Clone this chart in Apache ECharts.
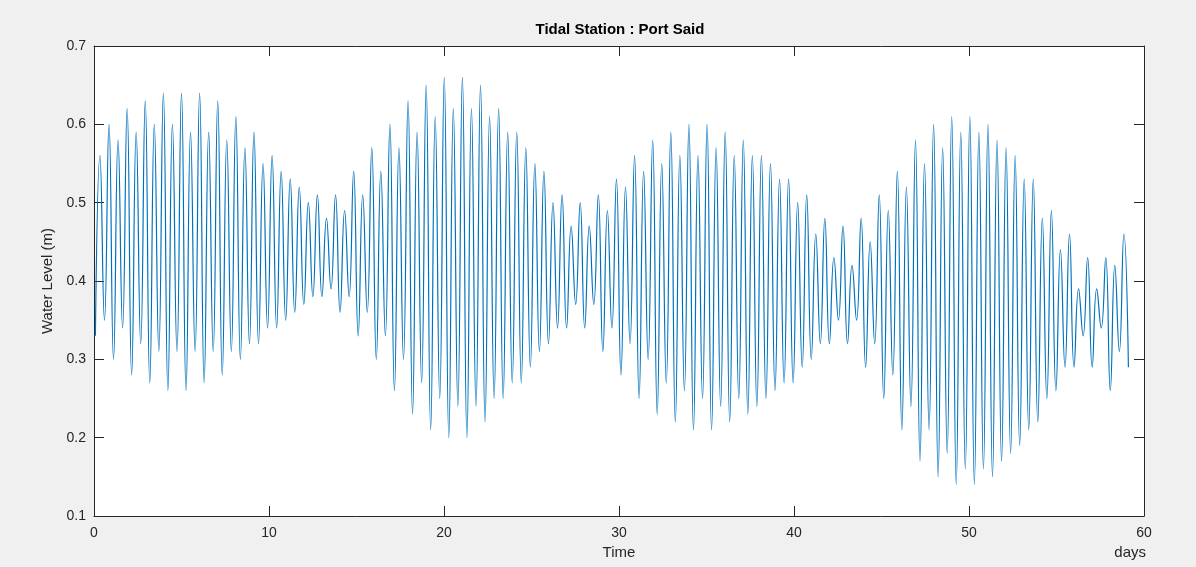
<!DOCTYPE html>
<html>
<head>
<meta charset="utf-8">
<title>Tidal Station : Port Said</title>
<script src="https://cdn.jsdelivr.net/npm/echarts@6/dist/echarts.min.js"></script>
<style>
  html, body { margin: 0; padding: 0; background: #F0F0F0; }
  #chart { width: 1196px; height: 567px; }
</style>
</head>
<body>
<div id="chart"></div>
<script>
// Successive high / low water levels (m), one value per tidal half-cycle,
// starting with the low water at the beginning of the record.
const levelsDays0to10 = [
  0.33,
  0.56, 0.35, 0.60, 0.30, 0.58, 0.34, 0.62, 0.28, 0.59, 0.32,
  0.63, 0.27, 0.60, 0.31, 0.64, 0.26, 0.60, 0.31, 0.64, 0.26,
  0.59, 0.31, 0.64, 0.27, 0.59, 0.31, 0.63, 0.28, 0.58, 0.31,
  0.61, 0.30, 0.57, 0.32, 0.59, 0.32, 0.55, 0.34, 0.56
];
const levelsDays10to20 = [
  0.34, 0.54, 0.35, 0.53, 0.36, 0.52, 0.37, 0.50, 0.38, 0.51,
  0.38, 0.48, 0.39, 0.51, 0.36, 0.49, 0.38, 0.54, 0.33, 0.51,
  0.36, 0.57, 0.30, 0.54, 0.33, 0.60, 0.26, 0.57, 0.30, 0.63,
  0.23, 0.59, 0.27, 0.65, 0.21, 0.61
];
const levelsDays20to30 = [
  0.25, 0.66, 0.20, 0.62, 0.24, 0.66, 0.20, 0.62, 0.24, 0.65,
  0.22, 0.61, 0.25, 0.62, 0.25, 0.59, 0.27, 0.59, 0.27, 0.57,
  0.29, 0.55, 0.31, 0.54, 0.32, 0.50, 0.34, 0.51, 0.34, 0.47,
  0.37, 0.50, 0.34, 0.47, 0.37, 0.51, 0.31, 0.49
];
const levelsDays30to40 = [
  0.34, 0.53, 0.28, 0.52, 0.32, 0.56, 0.25, 0.54, 0.30, 0.58,
  0.23, 0.55, 0.27, 0.59, 0.22, 0.56, 0.26, 0.60, 0.21, 0.56,
  0.25, 0.60, 0.21, 0.57, 0.24, 0.59, 0.22, 0.56, 0.25, 0.58,
  0.23, 0.56, 0.24, 0.56, 0.25, 0.55, 0.26, 0.53
];
const levelsDays40to50 = [
  0.27, 0.53, 0.27, 0.50, 0.29, 0.51, 0.30, 0.46, 0.32, 0.48,
  0.32, 0.43, 0.35, 0.47, 0.32, 0.42, 0.35, 0.48, 0.29, 0.45,
  0.32, 0.51, 0.25, 0.49, 0.28, 0.54, 0.21, 0.52, 0.24, 0.58,
  0.17, 0.55, 0.21, 0.60, 0.15, 0.57
];
const levelsDays50to59 = [
  0.18, 0.61, 0.14, 0.59, 0.16, 0.61, 0.14, 0.59, 0.16, 0.60,
  0.15, 0.58, 0.17, 0.57, 0.18, 0.56, 0.19, 0.53, 0.21, 0.53,
  0.22, 0.48, 0.25, 0.49, 0.26, 0.44, 0.29, 0.46, 0.29, 0.39,
  0.33, 0.43, 0.29, 0.39, 0.34, 0.43, 0.26, 0.42, 0.31, 0.46,
  0.29
];

// Sampling: time of the first low water and the semidiurnal half-cycle (days)
const FIRST_SAMPLE_DAY = 0.08;
const HALF_CYCLE_DAYS = 0.2589;

const xTicks = [0, 10, 20, 30, 40, 50, 60];
const yTicks = [0.1, 0.2, 0.3, 0.4, 0.5, 0.6, 0.7];

const waterLevel = [].concat(
  levelsDays0to10, levelsDays10to20, levelsDays20to30,
  levelsDays30to40, levelsDays40to50, levelsDays50to59
);
const seriesData = waterLevel.map((v, i) => [FIRST_SAMPLE_DAY + i * HALF_CYCLE_DAYS, v]);

const FONT = "'Liberation Sans', Arial, Helvetica, sans-serif";
const AXIS_COLOR = '#262626';

const chart = echarts.init(document.getElementById('chart'), null, { renderer: 'canvas' });

function xAxisCfg(pos, labels) {
  return {
    type: 'value', position: pos,
    min: xTicks[0], max: xTicks[xTicks.length - 1], interval: 10,
    axisLine: { show: true, onZero: false, lineStyle: { color: AXIS_COLOR, width: 1 } },
    axisTick: { show: true, inside: true, length: 10, lineStyle: { color: AXIS_COLOR } },
    axisLabel: { show: labels, margin: 10, color: AXIS_COLOR, fontSize: 14, fontFamily: FONT },
    splitLine: { show: false }
  };
}
function yAxisCfg(pos, labels) {
  return {
    type: 'value', position: pos,
    min: yTicks[0], max: yTicks[yTicks.length - 1], interval: 0.1,
    axisLine: { show: true, onZero: false, lineStyle: { color: AXIS_COLOR, width: 1 } },
    axisTick: { show: true, inside: true, length: 10, lineStyle: { color: AXIS_COLOR } },
    axisLabel: {
      show: labels, margin: 8, color: AXIS_COLOR, fontSize: 14, fontFamily: FONT,
      formatter: v => v.toFixed(1)
    },
    splitLine: { show: false }
  };
}

const xBottom = xAxisCfg('bottom', true);
xBottom.name = 'Time';
xBottom.nameLocation = 'middle';
xBottom.nameGap = 29;
xBottom.nameTextStyle = { color: AXIS_COLOR, fontSize: 15, fontFamily: FONT };

const yLeft = yAxisCfg('left', true);
yLeft.name = 'Water Level (m)';
yLeft.nameLocation = 'middle';
yLeft.nameGap = 32;
yLeft.nameTextStyle = { color: AXIS_COLOR, fontSize: 15, fontFamily: FONT };

chart.setOption({
  backgroundColor: '#F0F0F0',
  animation: false,
  grid: {
    left: 94, right: 52, top: 46, bottom: 51,
    show: true, backgroundColor: '#FFFFFF', borderWidth: 0
  },
  xAxis: [xBottom, xAxisCfg('top', false)],
  yAxis: [yLeft, yAxisCfg('right', false)],
  graphic: [
    {
      type: 'text', x: 620, y: 30,
      style: {
        text: 'Tidal Station : Port Said', fill: '#000000',
        font: 'bold 15px ' + FONT, align: 'center', verticalAlign: 'middle'
      }
    },
    {
      type: 'text', x: 1146, y: 553,
      style: {
        text: 'days', fill: AXIS_COLOR,
        font: '15px ' + FONT, align: 'right', verticalAlign: 'middle'
      }
    }
  ],
  series: [{
    type: 'line',
    xAxisIndex: 0, yAxisIndex: 0,
    data: seriesData,
    showSymbol: false,
    smooth: 0.5,
    lineStyle: { color: '#0072BD', width: 1.2 },
    silent: true
  }]
});
</script>
</body>
</html>
